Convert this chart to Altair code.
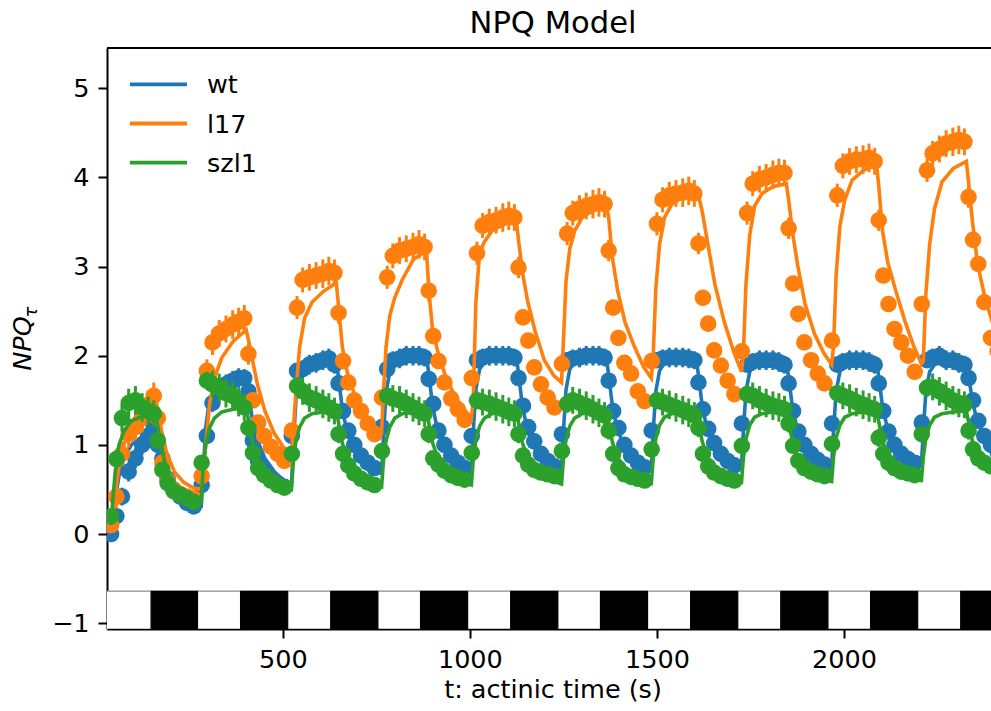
import altair as alt
import pandas as pd

FONT = "DejaVu Sans"
C_WT, C_L17, C_SZL1 = "#1f77b4", "#ff7f0e", "#2ca02c"

# ---- light / dark periods (s) ----
light_start = [0, 272, 513, 754, 994, 1235, 1475, 1716, 1957, 2197]
light_end = [148, 387, 628, 868, 1109, 1349, 1590, 1831, 2071, 2312]
dark_start = [148, 387, 628, 868, 1109, 1349, 1590, 1831, 2071, 2312]
dark_end = [272, 513, 754, 994, 1235, 1475, 1716, 1957, 2197, 2450]

# ---- sampling times: cycle starts + offsets within each cycle (s) ----
cycle_start = [30, 272, 513, 754, 994, 1235, 1475, 1716, 1957, 2197]
obs_offsets = [11, 25, 40, 58, 76, 94, 110, 125, 136, 148, 162, 178, 196, 214, 232]
model_offsets = [10, 15, 22, 32, 45, 65, 95, 130, 136, 146, 160, 180, 205, 230]

# ---- measured NPQ (one row per cycle) ----
wt_obs = [
    [0.0, 0.2, 0.42, 0.7, 0.85, 1.0, 1.1, 1.2, 1.0, 0.85, 0.62, 0.5, 0.42, 0.35, 0.31],
    [0.55, 1.1, 1.47, 1.62, 1.68, 1.72, 1.75, 1.75, 1.6, 1.05, 0.82, 0.7, 0.62, 0.57, 0.53],
    [1.1, 1.83, 1.85, 1.9, 1.92, 1.95, 1.97, 1.9, 1.69, 1.38, 1.16, 1.0, 0.88, 0.8, 0.74],
    [1.2, 1.85, 1.95, 1.97, 2.0, 2.0, 2.0, 1.98, 1.74, 1.46, 1.16, 1.0, 0.88, 0.8, 0.74],
    [1.1, 1.95, 1.98, 2.0, 2.0, 2.0, 2.0, 1.98, 1.75, 1.44, 1.2, 1.04, 0.9, 0.82, 0.76],
    [1.12, 1.95, 1.97, 1.98, 2.0, 2.0, 2.0, 1.98, 1.72, 1.38, 1.19, 1.0, 0.88, 0.8, 0.75],
    [1.16, 1.95, 1.97, 1.98, 1.98, 1.98, 1.97, 1.95, 1.7, 1.4, 1.18, 1.02, 0.9, 0.82, 0.77],
    [1.24, 1.9, 1.93, 1.95, 1.95, 1.95, 1.93, 1.9, 1.69, 1.38, 1.15, 1.0, 0.9, 0.83, 0.78],
    [1.24, 1.9, 1.93, 1.95, 1.95, 1.95, 1.93, 1.9, 1.69, 1.38, 1.15, 1.0, 0.9, 0.84, 0.8],
    [1.25, 1.95, 1.98, 2.0, 1.95, 1.95, 1.92, 1.9, 1.75, 1.5, 1.27, 1.1, 1.0, 0.92, 0.86],
]
l17_obs = [
    [0.1, 0.42, 0.9, 1.12, 1.2, 1.3, 1.45, 1.55, 1.3, 0.8, 0.6, 0.5, 0.45, 0.42, 0.4],
    [0.65, 1.83, 2.15, 2.25, 2.3, 2.35, 2.38, 2.42, 2.02, 1.5, 1.25, 1.1, 0.98, 0.9, 0.82],
    [1.16, 2.54, 2.85, 2.88, 2.9, 2.92, 2.95, 2.93, 2.48, 1.94, 1.7, 1.5, 1.38, 1.24, 1.12],
    [1.53, 2.88, 3.12, 3.18, 3.2, 3.22, 3.25, 3.22, 2.73, 2.22, 1.94, 1.7, 1.52, 1.4, 1.28],
    [1.75, 3.15, 3.46, 3.5, 3.52, 3.55, 3.57, 3.55, 2.99, 2.43, 2.17, 1.87, 1.68, 1.53, 1.42],
    [1.91, 3.37, 3.6, 3.65, 3.68, 3.7, 3.72, 3.7, 3.18, 2.54, 2.2, 1.92, 1.8, 1.6, 1.49],
    [1.94, 3.48, 3.75, 3.8, 3.82, 3.83, 3.85, 3.82, 3.26, 2.65, 2.36, 2.06, 1.89, 1.72, 1.57],
    [2.05, 3.6, 3.93, 3.98, 4.0, 4.03, 4.05, 4.05, 3.43, 2.81, 2.47, 2.15, 1.95, 1.8, 1.69],
    [2.17, 3.8, 4.13, 4.18, 4.2, 4.2, 4.22, 4.18, 3.52, 2.9, 2.58, 2.3, 2.15, 2.0, 1.82],
    [2.58, 4.08, 4.27, 4.32, 4.38, 4.4, 4.42, 4.4, 3.78, 3.3, 3.03, 2.6, 2.2, 2.05, 1.95],
]
szl1_obs = [
    [0.2, 0.84, 1.3, 1.47, 1.5, 1.42, 1.38, 1.35, 1.05, 0.72, 0.57, 0.48, 0.44, 0.4, 0.36],
    [0.8, 1.72, 1.68, 1.64, 1.58, 1.55, 1.48, 1.42, 1.19, 0.91, 0.74, 0.66, 0.6, 0.55, 0.52],
    [0.9, 1.66, 1.6, 1.53, 1.5, 1.46, 1.42, 1.38, 1.12, 0.9, 0.77, 0.68, 0.62, 0.58, 0.55],
    [0.93, 1.55, 1.52, 1.5, 1.46, 1.42, 1.38, 1.35, 1.12, 0.85, 0.78, 0.71, 0.66, 0.63, 0.61],
    [0.91, 1.5, 1.48, 1.46, 1.43, 1.4, 1.37, 1.35, 1.12, 0.88, 0.78, 0.72, 0.69, 0.67, 0.65],
    [0.93, 1.46, 1.5, 1.47, 1.44, 1.4, 1.36, 1.33, 1.16, 0.9, 0.74, 0.67, 0.64, 0.62, 0.6],
    [0.95, 1.5, 1.48, 1.45, 1.42, 1.39, 1.36, 1.33, 1.19, 0.9, 0.76, 0.69, 0.65, 0.62, 0.6],
    [0.99, 1.57, 1.55, 1.5, 1.47, 1.44, 1.42, 1.4, 1.24, 0.99, 0.82, 0.74, 0.7, 0.67, 0.65],
    [1.01, 1.58, 1.55, 1.52, 1.48, 1.45, 1.42, 1.4, 1.08, 0.9, 0.8, 0.74, 0.7, 0.68, 0.66],
    [1.12, 1.64, 1.65, 1.6, 1.55, 1.5, 1.47, 1.45, 1.16, 0.95, 0.85, 0.8, 0.76, 0.73, 0.7],
]
wt_err = [0.05, 0.08, 0.1, 0.11, 0.11, 0.11, 0.11, 0.1, 0.08, 0.06, 0.05, 0.05, 0.04, 0.04, 0.04]
l17_err = [0.06, 0.13, 0.14, 0.15, 0.15, 0.16, 0.16, 0.15, 0.12, 0.08, 0.07, 0.06, 0.06, 0.05, 0.05]
szl1_err = [0.06, 0.1, 0.15, 0.16, 0.16, 0.16, 0.16, 0.15, 0.1, 0.07, 0.06, 0.06, 0.05, 0.05, 0.05]

# ---- model curves (one row per cycle) ----
wt_model = [
    [0.0, 0.15, 0.4, 0.65, 0.85, 1.0, 1.1, 1.15, 1.05, 0.85, 0.65, 0.5, 0.4, 0.35],
    [0.32, 0.7, 1.2, 1.5, 1.62, 1.7, 1.74, 1.76, 1.6, 1.3, 1.05, 0.85, 0.7, 0.6],
    [0.55, 1.0, 1.5, 1.75, 1.85, 1.9, 1.93, 1.95, 1.75, 1.4, 1.12, 0.92, 0.8, 0.72],
    [0.68, 1.1, 1.6, 1.82, 1.92, 1.96, 1.98, 2.0, 1.8, 1.45, 1.15, 0.95, 0.83, 0.75],
    [0.72, 1.15, 1.62, 1.85, 1.93, 1.97, 1.99, 2.0, 1.8, 1.45, 1.16, 0.96, 0.84, 0.76],
    [0.73, 1.15, 1.62, 1.85, 1.93, 1.96, 1.98, 1.98, 1.78, 1.44, 1.16, 0.97, 0.85, 0.77],
    [0.74, 1.15, 1.6, 1.83, 1.92, 1.95, 1.96, 1.96, 1.78, 1.44, 1.16, 0.98, 0.86, 0.78],
    [0.75, 1.15, 1.6, 1.82, 1.9, 1.93, 1.94, 1.94, 1.76, 1.43, 1.16, 0.98, 0.87, 0.79],
    [0.76, 1.15, 1.6, 1.82, 1.9, 1.93, 1.94, 1.94, 1.76, 1.43, 1.17, 0.99, 0.88, 0.8],
    [0.77, 1.16, 1.6, 1.82, 1.9, 1.93, 1.94, 1.94, 1.78, 1.5, 1.25, 1.08, 0.95, 0.85],
]
l17_model = [
    [0.05, 0.2, 0.45, 0.75, 1.0, 1.25, 1.42, 1.52, 1.4, 1.15, 0.9, 0.7, 0.58, 0.52],
    [0.5, 0.7, 1.0, 1.45, 1.75, 1.98, 2.16, 2.29, 2.18, 1.97, 1.68, 1.38, 1.13, 0.97],
    [0.92, 1.16, 1.6, 2.1, 2.42, 2.6, 2.72, 2.82, 2.55, 2.1, 1.8, 1.55, 1.35, 1.22],
    [1.15, 1.6, 2.1, 2.45, 2.65, 2.85, 3.08, 3.18, 2.75, 2.3, 2.05, 1.78, 1.55, 1.4],
    [1.3, 1.5, 2.6, 3.15, 3.28, 3.4, 3.47, 3.52, 3.3, 2.95, 2.62, 2.28, 1.95, 1.78],
    [1.7, 2.16, 2.84, 3.2, 3.4, 3.55, 3.63, 3.68, 3.55, 3.1, 2.73, 2.37, 2.1, 1.87],
    [1.75, 2.0, 2.75, 3.25, 3.55, 3.7, 3.78, 3.82, 3.8, 3.62, 3.28, 2.8, 2.38, 2.05],
    [1.82, 2.02, 2.8, 3.35, 3.68, 3.82, 3.9, 3.93, 3.75, 3.4, 3.02, 2.58, 2.25, 2.03],
    [1.9, 2.1, 2.9, 3.45, 3.75, 3.97, 4.08, 4.15, 3.9, 3.4, 3.05, 2.75, 2.4, 2.1],
    [1.91, 1.94, 2.7, 3.25, 3.65, 3.95, 4.1, 4.18, 3.95, 3.52, 3.03, 2.65, 2.3, 2.05],
]
szl1_model = [
    [0.1, 0.35, 0.7, 1.0, 1.15, 1.27, 1.32, 1.35, 1.2, 0.95, 0.72, 0.55, 0.45, 0.4],
    [0.38, 0.75, 1.0, 1.19, 1.3, 1.37, 1.4, 1.42, 1.28, 1.05, 0.85, 0.7, 0.6, 0.53],
    [0.5, 0.8, 1.05, 1.2, 1.3, 1.35, 1.37, 1.38, 1.25, 1.02, 0.83, 0.7, 0.62, 0.56],
    [0.53, 0.82, 1.05, 1.2, 1.3, 1.35, 1.37, 1.38, 1.25, 1.03, 0.85, 0.72, 0.64, 0.58],
    [0.55, 0.83, 1.06, 1.21, 1.3, 1.35, 1.37, 1.38, 1.25, 1.03, 0.85, 0.72, 0.64, 0.59],
    [0.56, 0.84, 1.06, 1.21, 1.3, 1.35, 1.37, 1.38, 1.25, 1.03, 0.86, 0.73, 0.65, 0.6],
    [0.57, 0.85, 1.07, 1.22, 1.31, 1.35, 1.37, 1.38, 1.25, 1.04, 0.86, 0.73, 0.65, 0.6],
    [0.58, 0.85, 1.07, 1.22, 1.31, 1.35, 1.37, 1.38, 1.26, 1.04, 0.87, 0.74, 0.66, 0.61],
    [0.59, 0.86, 1.08, 1.22, 1.31, 1.35, 1.37, 1.38, 1.26, 1.05, 0.87, 0.74, 0.66, 0.61],
    [0.6, 0.86, 1.08, 1.22, 1.31, 1.35, 1.37, 1.38, 1.26, 1.05, 0.88, 0.75, 0.67, 0.62],
]
series = ["wt", "l17", "szl1"]
x_ticks = [500, 1000, 1500, 2000]
y_ticks = [-1, 0, 1, 2, 3, 4, 5]


def obs_frame(vals, err):
    rows = []
    for c, start in enumerate(cycle_start):
        for i, off in enumerate(obs_offsets):
            v = vals[c][i]
            rows.append({"t": start + off, "v": v, "lo": v - err[i], "hi": v + err[i]})
    return pd.DataFrame(rows)


def model_frame(vals):
    rows = []
    for c, start in enumerate(cycle_start):
        for i, off in enumerate(model_offsets):
            rows.append({"t": start + off, "v": vals[c][i]})
    return pd.DataFrame(rows)


W, H = 884, 581
xs = alt.Scale(domain=[30, 2393], nice=False, zero=False)
ys = alt.Scale(domain=[-1.065, 5.452], nice=False, zero=False)
common_axis = dict(
    title=None, grid=False, labelFont=FONT, labelFontSize=25.5, labelColor="black",
    tickColor="black", tickSize=9, tickWidth=2, domainColor="black", domainWidth=2,
    labelPadding=9, format="d",
)
xaxis = alt.Axis(values=x_ticks, **common_axis)
yaxis = alt.Axis(values=y_ticks, **common_axis)


def X(field):
    return alt.X(field, type="quantitative", scale=xs, axis=xaxis)


def Y(field):
    return alt.Y(field, type="quantitative", scale=ys, axis=yaxis)


light_df = pd.DataFrame({"s": light_start, "e": light_end})
dark_df = pd.DataFrame({"s": dark_start, "e": dark_end})

light_rects = alt.Chart(light_df).mark_rect(fill="white", stroke="#8a8a8a", strokeWidth=1.2, clip=True).encode(
    x=X("s"), x2="e", y=alt.datum(-1.065, scale=ys), y2=alt.datum(-0.64)
)
dark_rects = alt.Chart(dark_df).mark_rect(fill="black", stroke="black", strokeWidth=1, clip=True).encode(
    x=X("s"), x2="e", y=alt.datum(-1.065, scale=ys), y2=alt.datum(-0.64)
)

layers = [light_rects, dark_rects]
for obs, err, model, col in [
    (wt_obs, wt_err, wt_model, C_WT),
    (l17_obs, l17_err, l17_model, C_L17),
    (szl1_obs, szl1_err, szl1_model, C_SZL1),
]:
    od = obs_frame(obs, err)
    md = model_frame(model)
    layers.append(alt.Chart(od).mark_rule(color=col, strokeWidth=3, clip=True).encode(x=X("t"), y=Y("lo"), y2="hi"))
    layers.append(alt.Chart(od).mark_circle(color=col, size=275, opacity=1, clip=True).encode(x=X("t"), y=Y("v")))
    layers.append(alt.Chart(md).mark_line(color=col, strokeWidth=3.6, clip=True).encode(x=X("t"), y=Y("v")))

one = pd.DataFrame({"a": [0]})
# legend
for i, (name, col) in enumerate(zip(series, [C_WT, C_L17, C_SZL1])):
    yy = 36.3 + i * 39.2
    layers.append(alt.Chart(one).mark_rule(color=col, strokeWidth=3.8).encode(
        x=alt.value(23), x2=alt.value(80), y=alt.value(yy)))
    layers.append(alt.Chart(one).mark_text(text=name, font=FONT, fontSize=25.5, align="left",
                                           baseline="middle", color="black").encode(
        x=alt.value(100), y=alt.value(yy + 1)))

# top spine
layers.append(alt.Chart(one).mark_rule(color="black", strokeWidth=2).encode(
    x=alt.value(0), x2=alt.value(W), y=alt.value(0)))

# titles
layers.append(alt.Chart(one).mark_text(text="NPQ Model", font=FONT, fontSize=30.6, align="center",
                                       baseline="alphabetic", color="black").encode(
    x=alt.value(446), y=alt.value(-15)))
layers.append(alt.Chart(one).mark_text(text="t: actinic time (s)", font=FONT, fontSize=25.5, align="center",
                                       baseline="alphabetic", color="black").encode(
    x=alt.value(446), y=alt.value(650)))
layers.append(alt.Chart(one).mark_text(text="NPQ", font=FONT, fontSize=25.5, fontStyle="italic", angle=270,
                                       align="center", baseline="alphabetic", color="black").encode(
    x=alt.value(-76), y=alt.value(295.5)))
layers.append(alt.Chart(one).mark_text(text="τ", font=FONT, fontSize=18, fontStyle="italic", angle=270,
                                       align="center", baseline="alphabetic", color="black").encode(
    x=alt.value(-70), y=alt.value(264)))

chart = alt.layer(*layers).properties(
    width=W, height=H,
    padding={"left": 107, "top": 48, "right": 0, "bottom": 82},
    autosize=alt.AutoSizeParams(type="none"),
).configure_view(stroke=None).configure(background="white")

chart.save("out.html", embed_options={"renderer": "svg", "actions": False})
